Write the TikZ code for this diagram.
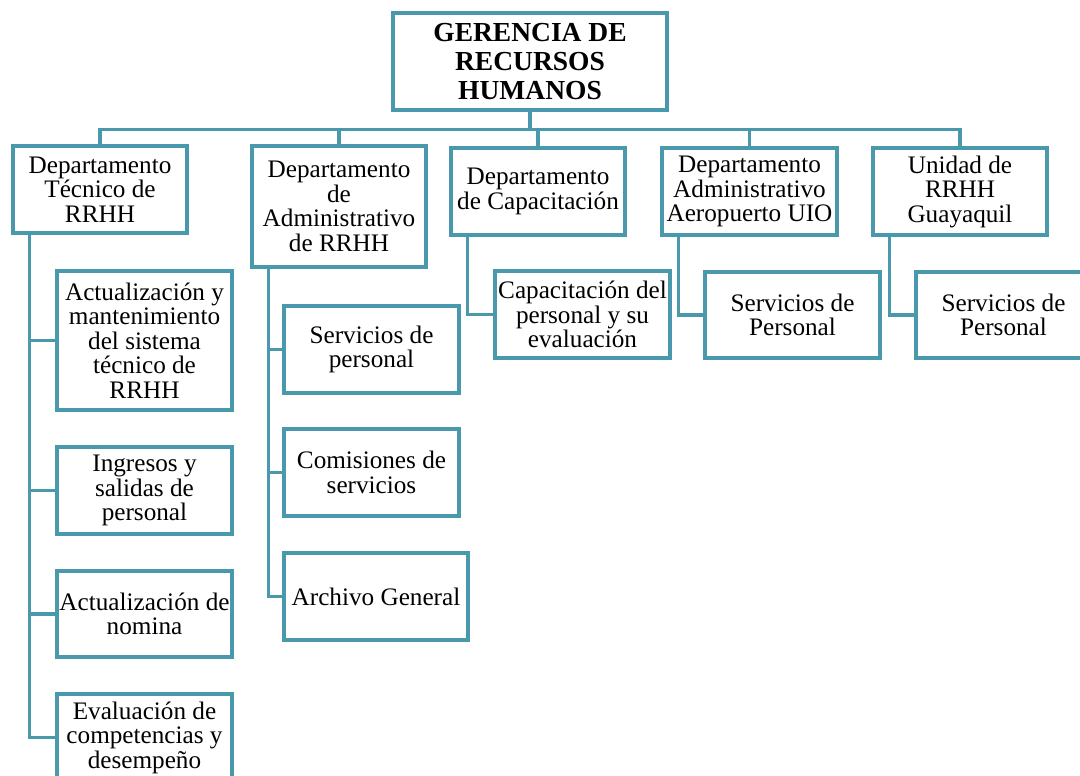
\documentclass[tikz,border=0pt]{standalone}
\usepackage{fontspec}
\setmainfont{Liberation Serif}
\definecolor{rrhh}{RGB}{74,152,172}

\begin{document}
\begin{tikzpicture}[x=1pt,y=-1pt,
  caja/.style={draw=rrhh,line width=3.2pt,align=center,inner sep=1pt,
    minimum width=175pt,minimum height=87pt,font=\fontsize{25.2}{24.5}\selectfont},
  linea/.style={draw=rrhh,line width=3.4pt}]
\clip (0,0) rectangle (1080,776);

\node[caja,minimum width=274pt,minimum height=97pt,font=\fontsize{27.5}{29}\selectfont\bfseries]
  (gerencia) at (530,61.5) {GERENCIA DE\\RECURSOS\\HUMANOS};

\node[caja,minimum width=174pt] (tec) at (100,189.5) {Departamento\\Técnico de\\RRHH};
\node[caja,minimum width=174pt,minimum height=121pt] (adm) at (339,206.5) {Departamento\\de\\Administrativo\\de RRHH};
\node[caja,minimum width=174pt] (cap) at (538,191.5) {Departamento\\de Capacitación};
\node[caja] (aer) at (749.5,191.5) {Departamento\\Administrativo\\Aeropuerto UIO};
\node[caja,minimum width=174pt] (gye) at (960,191.5) {Unidad de\\RRHH\\Guayaquil};

\node[caja,minimum height=139pt] (t1) at (144.5,340.5) {Actualización y\\mantenimiento\\del sistema\\técnico de\\RRHH};
\node[caja] (t2) at (144.5,490.5) {Ingresos y\\salidas de\\personal};
\node[caja,minimum height=86pt] (t3) at (144.5,614) {Actualización de\\nomina};
\node[caja] (t4) at (144.5,737.5) {Evaluación de\\competencias y\\desempeño};

\node[caja] (a1) at (371.5,349.5) {Servicios de\\personal};
\node[caja] (a2) at (371.5,472.5) {Comisiones de\\servicios};
\node[caja,minimum width=184pt] (a3) at (376,596.5) {Archivo General};

\node[caja] (c1) at (582.5,314.5) {Capacitación del\\personal y su\\evaluación};
\node[caja,minimum height=86pt] (e1) at (792.5,315) {Servicios de\\Personal};
\node[caja,minimum height=86pt] (g1) at (1003.5,315) {Servicios de\\Personal};

\draw[linea] (gerencia.south) -- ++(0,18) coordinate (barra);
\foreach \d in {tec,adm,cap,aer,gye}
  \draw[linea] (barra) -| (\d.north);

\foreach \p/\h in {tec/t1,tec/t2,tec/t3,tec/t4,adm/a1,adm/a2,adm/a3,cap/c1,aer/e1,gye/g1}
  \draw[linea] ([xshift=18pt]\p.south west) |- (\h.west);
\end{tikzpicture}
\end{document}
